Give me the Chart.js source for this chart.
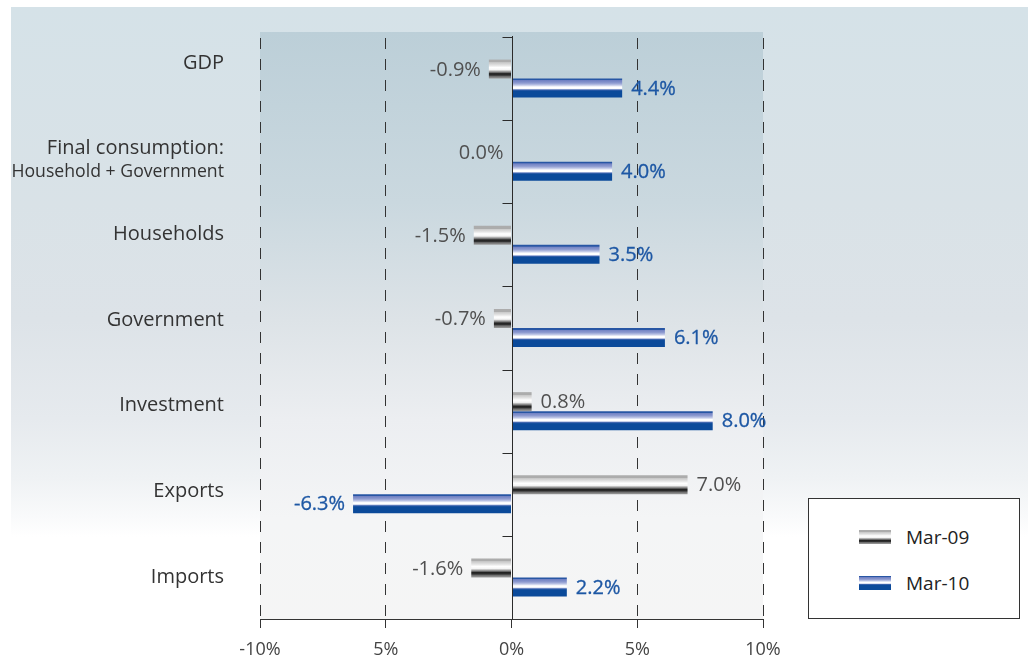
<!DOCTYPE html>
<html>
<head>
<meta charset="utf-8">
<script src="https://cdn.jsdelivr.net/npm/chart.js@4.4.1/dist/chart.umd.min.js"></script>
<style>
  html, body { margin: 0; padding: 0; background: #fff; overflow: hidden; }
  #wrap { position: relative; width: 1028px; height: 661px; }
  #legend {
    position: absolute; left: 808px; top: 498px; width: 212px; height: 121px;
    border: 1px solid #333; background: #fff; box-sizing: border-box;
    font-family: "Open Sans", sans-serif; font-size: 19px; color: #222;
  }
  #legend .item { position: absolute; left: 50px; height: 22px; line-height: 22px; }
  #legend .sw { display: inline-block; width: 32px; height: 14px; vertical-align: middle; margin-right: 15px; margin-top: -3px; }
</style>
</head>
<body>
<div id="wrap">
  <canvas id="chart" width="1028" height="661"></canvas>
  <div id="legend"></div>
</div>
<script>
const categories = ["GDP", ["Final consumption:", "Household + Government"], "Households", "Government", "Investment", "Exports", "Imports"];
const seriesNames = ["Mar-09", "Mar-10"];
const mar09 = [-0.9, 0.0, -1.5, -0.7, 0.8, 7.0, -1.6];
const mar10 = [4.4, 4.0, 3.5, 6.1, 8.0, -6.3, 2.2];
const tickText = ["-10%", "5%", "0%", "5%", "10%"];

const FONT = "'Open Sans', sans-serif";
const CAT_PCT = 0.457;

// horizontal stripes that give the bars their tube look
const grayStops = [
  [0, "#acacac"], [0.14, "#acacac"], [0.15, "#c6c6c6"], [0.3, "#e2e2e2"], [0.42, "#ffffff"],
  [0.54, "#f4f4f4"], [0.6, "#b8b8b8"], [0.68, "#6e6e6e"], [0.74, "#222222"], [0.82, "#2e2e2e"],
  [0.88, "#6a6a6a"], [1, "#a0a0a0"]
];
const blueStops = [
  [0, "#2856a4"], [0.08, "#2856a4"], [0.1, "#6f80c2"], [0.24, "#8e9bd0"], [0.34, "#bcc4e5"],
  [0.44, "#ffffff"], [0.52, "#ffffff"], [0.56, "#a8b6dd"], [0.6, "#3a62ac"], [0.66, "#0b4a9a"], [1, "#0b4a9a"]
];

function stripeFill(stops, second) {
  return (c) => {
    const chart = c.chart;
    const y = chart.scales.y;
    if (!y || c.dataIndex === undefined || !chart.chartArea) return stops[stops.length - 1][1];
    const band = (y.bottom - y.top) / categories.length;
    const thick = band * CAT_PCT / 2;
    const center = y.getPixelForValue(c.dataIndex);
    const top = second ? center : center - thick;
    const g = chart.ctx.createLinearGradient(0, top, 0, top + thick);
    stops.forEach(([p, col]) => g.addColorStop(p, col));
    return g;
  };
}

function cssGradient(stops) {
  return "linear-gradient(to bottom," + stops.map(([p, col]) => col + " " + (p * 100) + "%").join(",") + ")";
}

// page and plot backgrounds
const backdrop = {
  id: "backdrop",
  beforeDraw(chart) {
    const { ctx, chartArea: a, width, height } = chart;
    ctx.save();
    ctx.fillStyle = "#fff";
    ctx.fillRect(0, 0, width, height);
    let g = ctx.createLinearGradient(0, 7, 0, height);
    g.addColorStop(0, "#d5e2e8");
    g.addColorStop(0.3, "#d9e2e7");
    g.addColorStop(0.48, "#dde3e8");
    g.addColorStop(0.63, "#e6eaee");
    g.addColorStop(0.72, "#eff2f4");
    g.addColorStop(0.78, "#f9fafb");
    g.addColorStop(0.81, "#ffffff");
    g.addColorStop(1, "#ffffff");
    ctx.fillStyle = g;
    ctx.fillRect(11, 7, width - 11, height - 7);
    const top = a.top - 5;
    g = ctx.createLinearGradient(0, top, 0, a.bottom);
    g.addColorStop(0, "#bccfd8");
    g.addColorStop(0.29, "#cad8df");
    g.addColorStop(0.49, "#dde3e7");
    g.addColorStop(0.66, "#eceef1");
    g.addColorStop(0.83, "#f4f5f6");
    g.addColorStop(1, "#f5f5f5");
    ctx.fillStyle = g;
    ctx.fillRect(a.left, top, a.right - a.left, a.bottom - top);
    ctx.restore();
  }
};

// category names left of the plot, in their own evenly spaced column;
// the second line of a two-line name is set condensed
const categoryLabels = {
  id: "categoryLabels",
  afterDraw(chart) {
    const { ctx, chartArea: a } = chart;
    ctx.save();
    ctx.fillStyle = "#333";
    ctx.textAlign = "right";
    ctx.textBaseline = "middle";
    const right = a.left - 36;
    const first = a.top + 26;
    const step = (a.bottom - 42 - first) / (categories.length - 1);
    categories.forEach((name, i) => {
      const cy = first + step * i;
      const lines = Array.isArray(name) ? name : [name];
      ctx.font = "20px " + FONT;
      ctx.fillText(lines[0], right, cy);
      if (lines[1]) {
        ctx.save();
        ctx.font = "19px " + FONT;
        ctx.translate(right, cy + 23);
        ctx.scale(0.93, 1);
        ctx.fillText(lines[1], 0, 0);
        ctx.restore();
      }
    });
    ctx.restore();
  }
};

// solid zero line with short ticks between categories
const zeroAxis = {
  id: "zeroAxis",
  afterDatasetsDraw(chart) {
    const { ctx, scales: { x, y } } = chart;
    const x0 = Math.round(x.getPixelForValue(0)) + 0.5;
    const band = (y.bottom - y.top) / categories.length;
    ctx.save();
    ctx.strokeStyle = "#2b2b2b";
    ctx.lineWidth = 1;
    ctx.beginPath();
    ctx.moveTo(x0, y.top - 1);
    ctx.lineTo(x0, y.bottom);
    for (let i = 0; i < categories.length; i++) {
      const yy = Math.round(y.top + band * i) + 0.5;
      ctx.moveTo(x0 - 10, yy);
      ctx.lineTo(x0, yy);
    }
    ctx.stroke();
    ctx.restore();
  }
};

// value labels beside each bar
const valueLabels = {
  id: "valueLabels",
  afterDatasetsDraw(chart) {
    const { ctx } = chart;
    ctx.save();
    ctx.textBaseline = "middle";
    chart.data.datasets.forEach((ds, di) => {
      const meta = chart.getDatasetMeta(di);
      const color = di === 0 ? "#505050" : "#1d57a4";
      ctx.font = "20px " + FONT;
      ctx.fillStyle = color;
      ctx.strokeStyle = color;
      ctx.lineWidth = 0.3;
      meta.data.forEach((el, i) => {
        const v = ds.data[i];
        const txt = v.toFixed(1) + "%";
        let tx = el.x + 9;
        ctx.textAlign = "left";
        if (v <= 0) {
          ctx.textAlign = "right";
          tx = el.x - 8;
        }
        ctx.fillText(txt, tx, el.y + 1);
        if (di === 1) ctx.strokeText(txt, tx, el.y + 1);
      });
    });
    ctx.restore();
  }
};

const ctx = document.getElementById("chart").getContext("2d");
new Chart(ctx, {
  type: "bar",
  data: {
    labels: categories,
    datasets: [
      { label: seriesNames[0], data: mar09, backgroundColor: stripeFill(grayStops, false), borderWidth: 0,
        categoryPercentage: CAT_PCT, barPercentage: 1.0 },
      { label: seriesNames[1], data: mar10, backgroundColor: stripeFill(blueStops, true), borderWidth: 0,
        categoryPercentage: CAT_PCT, barPercentage: 1.0 }
    ]
  },
  options: {
    indexAxis: "y",
    responsive: false,
    animation: false,
    layout: { padding: { left: 11, right: 265, top: 37, bottom: 0 } },
    plugins: { legend: { display: false }, tooltip: { enabled: false } },
    scales: {
      x: {
        min: -10, max: 10,
        afterFit: (s) => { s.height = 42; },
        ticks: {
          stepSize: 5, padding: 11, color: "#444",
          font: { family: FONT, size: 18 },
          callback: (v, i) => tickText[i]
        },
        grid: {
          color: (c) => (c.tick && c.tick.value === 0 ? "rgba(0,0,0,0)" : "#333"),
          lineWidth: 1, drawTicks: true, tickLength: 9, tickColor: "#333", tickWidth: 1
        },
        border: { display: true, color: "#333", width: 1, dash: [11, 10], dashOffset: 20 }
      },
      y: {
        afterFit: (s) => { s.width = 249; },
        grid: { display: false },
        border: { display: false },
        ticks: { display: false }
      }
    }
  },
  plugins: [backdrop, zeroAxis, valueLabels, categoryLabels]
});

// legend box
const legend = document.getElementById("legend");
[grayStops, blueStops].forEach((stops, i) => {
  const item = document.createElement("div");
  item.className = "item";
  item.style.top = (i === 0 ? 27 : 73) + "px";
  const sw = document.createElement("span");
  sw.className = "sw";
  sw.style.background = cssGradient(stops);
  item.appendChild(sw);
  item.appendChild(document.createTextNode(seriesNames[i]));
  legend.appendChild(item);
});
</script>
</body>
</html>
